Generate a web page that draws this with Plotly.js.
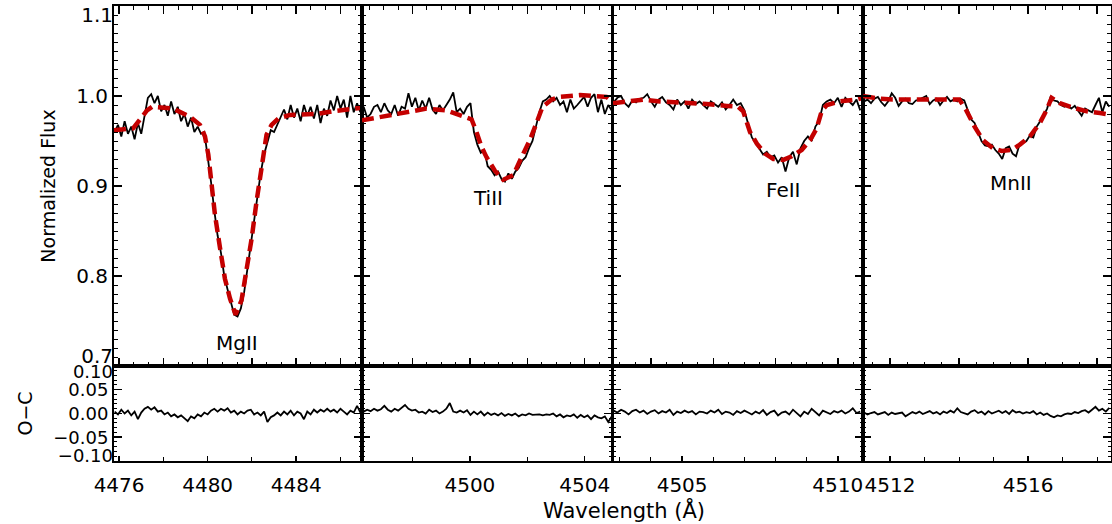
<!DOCTYPE html>
<html><head><meta charset="utf-8">
<script src="https://cdn.plot.ly/plotly-3.0.1.min.js"></script>
<style>html,body{margin:0;padding:0;background:#fff;}</style>
</head><body><div id="chart" style="width:1112px;height:524px;"></div>
<script>
// ---------- Mg II 4481 panel ----------
const mgWave = [4475.80,4475.95,4476.10,4476.25,4476.40,4476.55,4476.70,4476.85,4477.00,4477.15,
4477.30,4477.45,4477.60,4477.75,4477.90,4478.05,4478.20,4478.35,4478.50,4478.65,
4478.80,4478.95,4479.10,4479.25,4479.40,4479.55,4479.70,4479.85,4480.00,4480.15,
4480.30,4480.45,4480.60,4480.75,4480.90,4481.05,4481.20,4481.35,4481.50,4481.65,
4481.80,4481.95,4482.10,4482.25,4482.40,4482.55,4482.70,4482.85,4483.00,4483.15,
4483.30,4483.45,4483.60,4483.75,4483.90,4484.05,4484.20,4484.35,4484.50,4484.65,
4484.80,4484.95,4485.10,4485.25,4485.40,4485.55,4485.70,4485.85,4486.00,4486.15,
4486.30,4486.45,4486.60,4486.75,4486.90];
const mgFlux = [0.960,0.968,0.955,0.972,0.958,0.966,0.952,0.970,0.958,0.980,
0.998,1.002,0.992,1.000,0.983,0.990,0.978,0.994,0.980,0.988,
0.972,0.980,0.966,0.976,0.960,0.966,0.958,0.960,0.935,0.905,
0.873,0.845,0.826,0.800,0.785,0.770,0.757,0.755,0.764,0.782,
0.808,0.832,0.860,0.888,0.915,0.935,0.950,0.962,0.960,0.968,
0.976,0.985,0.974,0.990,0.976,0.986,0.972,0.990,0.978,0.988,
0.975,0.990,0.970,0.986,0.978,0.995,0.984,1.000,0.986,0.996,
0.976,1.000,0.982,0.992,0.982];
const mgResid = [0.004,-0.002,0.008,0.000,0.006,-0.004,0.004,-0.012,0.002,0.010,
0.014,0.008,0.013,0.004,0.006,-0.002,0.002,-0.006,-0.002,-0.008,
-0.004,-0.010,-0.016,-0.006,-0.010,-0.002,-0.006,0.002,-0.002,0.006,
0.010,0.004,0.010,0.006,0.011,0.002,0.006,-0.002,0.004,0.000,
0.006,0.008,-0.002,0.002,-0.004,0.004,-0.018,-0.008,-0.004,0.002,
-0.004,0.004,-0.002,0.006,-0.004,0.004,0.000,-0.012,0.004,-0.002,
0.008,0.002,0.008,0.004,0.010,0.004,0.008,0.002,0.010,0.004,
-0.002,0.006,0.002,0.016,0.002];
const mgModelWave = [4475.77,4476.63,4477.26,4477.49,4478.43,4479.20,4479.65,4479.88,4480.03,4480.18,
4480.33,4480.56,4480.78,4481.01,4481.26,4481.53,4481.76,4481.99,4482.21,4482.44,
4482.66,4482.89,4483.19,4483.72,4484.93,4485.66,4486.97];
const mgModelFlux = [0.962,0.964,0.984,0.988,0.986,0.977,0.968,0.955,0.935,0.901,
0.868,0.831,0.797,0.775,0.757,0.773,0.805,0.842,0.883,0.924,
0.957,0.968,0.975,0.979,0.980,0.983,0.987];

// ---------- Ti II 4501 panel ----------
const tiWave = [4496.30,4496.42,4496.54,4496.66,4496.78,4496.90,4497.02,4497.14,4497.26,4497.38,
4497.50,4497.62,4497.74,4497.86,4497.98,4498.10,4498.22,4498.34,4498.46,4498.58,
4498.70,4498.82,4498.94,4499.06,4499.18,4499.30,4499.42,4499.54,4499.66,4499.78,
4499.90,4500.02,4500.14,4500.26,4500.38,4500.50,4500.62,4500.74,4500.86,4500.98,
4501.10,4501.22,4501.34,4501.46,4501.58,4501.70,4501.82,4501.94,4502.06,4502.18,
4502.30,4502.42,4502.54,4502.66,4502.78,4502.90,4503.02,4503.14,4503.26,4503.38,
4503.50,4503.62,4503.74,4503.86,4503.98,4504.10,4504.22,4504.34,4504.46,4504.58,
4504.70,4504.82,4504.94];
const tiFlux = [0.988,0.976,0.980,0.988,0.990,0.982,0.992,0.984,0.980,0.990,
0.978,0.988,0.986,1.003,0.988,0.998,0.984,0.995,0.986,0.998,
0.985,0.980,0.990,0.984,0.990,0.996,1.004,0.982,0.986,0.980,
0.988,0.992,0.960,0.946,0.937,0.940,0.922,0.918,0.912,0.916,
0.908,0.905,0.914,0.908,0.916,0.920,0.928,0.932,0.942,0.950,
0.966,0.982,0.994,0.996,1.000,0.994,0.998,0.990,0.994,0.982,
0.996,0.986,0.990,0.994,0.999,0.988,0.998,1.002,0.982,0.996,
0.980,0.990,0.984];
const tiResid = [0.004,0.008,0.005,0.010,0.006,0.009,0.016,0.008,0.004,0.010,
0.006,0.012,0.018,0.010,0.006,0.008,0.002,0.004,0.000,0.008,
0.003,0.006,0.000,0.004,0.010,0.022,0.004,0.002,0.006,0.002,
0.007,-0.003,0.004,-0.002,0.004,-0.004,0.002,-0.003,0.000,-0.004,
0.001,-0.005,-0.001,-0.004,0.000,-0.006,-0.002,-0.004,0.000,-0.003,
-0.002,-0.002,-0.004,-0.002,-0.003,0.000,-0.006,-0.002,-0.008,-0.004,
-0.006,-0.002,-0.009,-0.003,-0.008,-0.004,-0.012,-0.004,-0.008,-0.010,
-0.006,-0.018,-0.006];
const tiModelWave = [4496.24,4497.33,4498.49,4499.19,4499.65,4500.06,4500.23,4500.41,4500.58,4500.87,
4501.16,4501.51,4501.86,4502.09,4502.32,4502.53,4502.85,4503.14,4503.83,4504.76,4504.95];
const tiModelFlux = [0.973,0.979,0.986,0.984,0.979,0.974,0.960,0.943,0.932,0.917,
0.907,0.912,0.936,0.951,0.970,0.988,0.996,0.999,1.001,0.999,0.994];

// ---------- Fe II 4508 panel ----------
const feWave = [4502.80,4502.92,4503.04,4503.16,4503.28,4503.40,4503.52,4503.64,4503.76,4503.88,
4504.00,4504.12,4504.24,4504.36,4504.48,4504.60,4504.72,4504.84,4504.96,4505.08,
4505.20,4505.32,4505.44,4505.56,4505.68,4505.80,4505.92,4506.04,4506.16,4506.28,
4506.40,4506.52,4506.64,4506.76,4506.88,4507.00,4507.12,4507.24,4507.36,4507.48,
4507.60,4507.72,4507.84,4507.96,4508.08,4508.20,4508.32,4508.44,4508.56,4508.68,
4508.80,4508.92,4509.04,4509.16,4509.28,4509.40,4509.52,4509.64,4509.76,4509.88,
4510.00,4510.12,4510.24,4510.36,4510.48,4510.60,4510.72];
const feFlux = [0.993,0.998,1.000,0.992,0.988,0.995,0.993,0.997,0.998,1.002,
0.994,0.988,0.996,0.999,0.993,0.990,0.985,0.996,0.990,0.994,
0.986,0.996,0.991,0.994,0.990,0.986,0.994,0.991,0.988,0.993,
0.985,0.990,0.996,0.990,0.992,0.984,0.968,0.954,0.948,0.942,
0.935,0.938,0.932,0.934,0.926,0.932,0.916,0.932,0.938,0.924,
0.942,0.950,0.955,0.950,0.966,0.972,0.990,0.994,0.996,0.992,
0.998,0.988,0.998,0.994,0.990,0.996,0.984];
const feResid = [0.006,0.002,0.008,0.004,-0.002,0.005,0.008,0.002,0.006,-0.001,
0.004,0.007,0.000,0.005,0.002,0.008,-0.003,0.004,0.001,0.006,
0.002,0.005,-0.002,0.004,0.003,0.000,0.006,0.002,0.008,-0.001,
0.004,0.002,-0.003,0.005,0.001,0.006,0.002,-0.002,0.004,0.000,
0.007,-0.003,0.003,0.006,-0.004,0.002,0.004,-0.002,0.008,0.000,
-0.006,0.004,-0.001,0.010,0.002,-0.004,0.006,0.003,-0.001,0.005,
0.002,0.006,0.000,0.004,0.011,0.001,0.004];
const feModelWave = [4502.78,4503.75,4504.29,4505.14,4505.79,4506.43,4506.80,4506.96,4507.18,4507.40,
4507.66,4507.93,4508.25,4508.52,4508.84,4509.11,4509.32,4509.49,4509.65,4510.07,4510.61,4510.81];
const feModelFlux = [0.992,0.996,0.994,0.993,0.991,0.989,0.988,0.983,0.960,0.947,
0.936,0.930,0.929,0.933,0.940,0.951,0.964,0.984,0.990,0.994,0.996,0.998];

// ---------- Mn II 4515 panel ----------
const mnWave = [4511.25,4511.35,4511.45,4511.55,4511.65,4511.75,4511.85,4511.95,4512.05,4512.15,
4512.25,4512.35,4512.45,4512.55,4512.65,4512.75,4512.85,4512.95,4513.05,4513.15,
4513.25,4513.35,4513.45,4513.55,4513.65,4513.75,4513.85,4513.95,4514.05,4514.15,
4514.25,4514.35,4514.45,4514.55,4514.65,4514.75,4514.85,4514.95,4515.05,4515.15,
4515.25,4515.35,4515.45,4515.55,4515.65,4515.75,4515.85,4515.95,4516.05,4516.15,
4516.25,4516.35,4516.45,4516.55,4516.65,4516.75,4516.85,4516.95,4517.05,4517.15,
4517.25,4517.35,4517.45,4517.55,4517.65,4517.75,4517.85,4517.95,4518.05,4518.15,
4518.25,4518.35];
const mnFlux = [0.994,0.996,0.992,0.997,0.999,0.993,0.989,0.994,1.003,0.998,
0.989,0.994,0.997,0.992,0.991,0.995,0.996,0.998,1.000,0.991,
0.995,0.997,0.990,0.995,0.999,0.994,0.996,0.994,0.997,0.995,
0.984,0.974,0.970,0.960,0.950,0.945,0.944,0.946,0.940,0.936,
0.930,0.942,0.944,0.936,0.933,0.946,0.948,0.950,0.956,0.954,
0.966,0.972,0.978,0.986,0.999,0.995,0.994,0.990,0.988,0.990,
0.986,0.989,0.984,0.978,0.986,0.984,0.982,0.990,0.998,0.982,
0.994,0.988];
const mnResid = [0.002,-0.002,0.001,0.003,-0.002,0.000,0.003,-0.003,0.002,-0.001,
0.001,0.002,-0.006,-0.002,0.003,0.000,0.004,-0.001,0.002,0.005,
0.000,0.003,-0.002,0.004,0.001,0.006,0.002,0.011,0.003,0.000,
-0.002,0.004,0.007,0.001,0.004,-0.002,0.005,0.000,0.003,0.006,
0.001,0.005,-0.001,0.007,0.002,0.004,0.000,0.003,0.001,0.005,
-0.002,0.002,-0.003,0.000,-0.005,-0.008,-0.004,-0.006,-0.002,0.000,
-0.001,0.003,0.001,0.005,0.007,0.002,0.008,0.014,0.006,0.010,
0.004,0.012];
const mnModelWave = [4511.22,4511.69,4512.08,4512.56,4513.05,4513.53,4514.01,4514.21,4514.45,4514.69,
4514.98,4515.23,4515.52,4515.76,4516.05,4516.34,4516.53,4516.68,4516.92,4517.31,4517.70,4518.08,4518.40];
const mnModelFlux = [1.000,0.997,0.996,0.996,0.997,0.996,0.996,0.984,0.966,0.951,
0.942,0.939,0.940,0.946,0.955,0.970,0.984,0.998,0.992,0.987,0.983,0.981,0.979];

// ---------- labels ----------
const lineNames = ['MgII','TiII','FeII','MnII'];
const lineLabelWave = [4481.31,4500.63,4508.24,4515.50];
const lineLabelFlux = [0.7256,0.8867,0.8956,0.9033];
const bottomTickVals = [[4476,4480,4484],[4500,4504],[4505,4510],[4512,4516]];
const fluxTickVals = [0.7,0.8,0.9,1.0,1.1];
const fluxTickText = ['','0.8','0.9','1.0',''];
const fluxEdgeTicks = [1.1,0.7];          // edge labels drawn nudged inward, as in the original
const residTickVals = [-0.10,-0.05,0.00,0.05,0.10];
const residTickText = ['','\u22120.05','0.00','0.05',''];
const residEdgeTicks = [0.10,-0.10];
const xTitle = 'Wavelength (Å)';
const yTitleTop = 'Normalized Flux';
const yTitleBottom = 'O\u2212C';

// ---------- build ----------
const FONT = 'DejaVu Sans, sans-serif';
const RED = '#c40000';
const TICKSIZE = 20;
const RESIDSIZE = 18;
const panels = [
  {w: mgWave, f: mgFlux, r: mgResid, mw: mgModelWave, mf: mgModelFlux},
  {w: tiWave, f: tiFlux, r: tiResid, mw: tiModelWave, mf: tiModelFlux},
  {w: feWave, f: feFlux, r: feResid, mw: feModelWave, mf: feModelFlux},
  {w: mnWave, f: mnFlux, r: mnResid, mw: mnModelWave, mf: mnModelFlux}
];
const xRanges = [[4475.77,4486.97],[4496.24,4504.95],[4502.78,4510.81],[4511.22,4518.40]];
const xDomains = [[0,0.2487],[0.2487,0.4995],[0.5005,0.7513],[0.7513,1]];
const topMinor = [2/3,0.5,0.5,0.5];
const bottomMinor = [2,2,1,1];
const topDom = [0.2088,1], botDom = [0,0.2088];

const traces = [];
const layout = {
  width:1112, height:524,
  margin:{l:114, r:1, t:6, b:63},
  paper_bgcolor:'#fff', plot_bgcolor:'#fff',
  showlegend:false,
  font:{family:FONT, size:TICKSIZE, color:'#000'},
  annotations:[]
};
function sfx(n){ return n===1 ? '' : String(n); }
const baseAxis = {
  showline:true, linecolor:'#000', linewidth:2, mirror:'ticks',
  ticks:'inside', tickcolor:'#000', tickwidth:1.5,
  showgrid:false, zeroline:false,
  tickfont:{family:FONT, size:TICKSIZE, color:'#000'}
};
panels.forEach((p,i)=>{
  const tx = i+1, bx = i+5;
  traces.push({x:p.w, y:p.f, type:'scatter', mode:'lines',
    line:{color:'#000', width:1.8}, xaxis:'x'+sfx(tx), yaxis:'y'+sfx(tx), hoverinfo:'skip'});
  traces.push({x:p.mw, y:p.mf, type:'scatter', mode:'lines',
    line:{color:RED, width:4.5, dash:'12px,6px'}, xaxis:'x'+sfx(tx), yaxis:'y'+sfx(tx), hoverinfo:'skip'});
  traces.push({x:p.w, y:p.r, type:'scatter', mode:'lines',
    line:{color:'#000', width:1.8}, xaxis:'x'+bx, yaxis:'y'+bx, hoverinfo:'skip'});

  layout['xaxis'+sfx(tx)] = Object.assign({}, baseAxis, {
    domain:xDomains[i], range:xRanges[i], anchor:'y'+sfx(tx),
    dtick:2, tick0:4476, ticklen:8, showticklabels:false,
    minor:{ticks:'inside', ticklen:4, tickwidth:1, tickcolor:'#000', dtick:topMinor[i], tick0:4476, showgrid:false}
  });
  layout['yaxis'+sfx(tx)] = Object.assign({}, baseAxis, {
    domain:topDom, range:[0.7,1.1], anchor:'x'+sfx(tx),
    tickvals:fluxTickVals, ticktext:fluxTickText, ticklen:8, showticklabels:(i===0),
    minor:{ticks:'inside', ticklen:4, tickwidth:1, tickcolor:'#000', dtick:0.01, tick0:0.7, showgrid:false},
    title: i===0 ? {text:yTitleTop, font:{family:FONT, size:19, color:'#000'}, standoff:16} : undefined
  });
  layout['xaxis'+bx] = Object.assign({}, baseAxis, {
    domain:xDomains[i], range:xRanges[i], anchor:'y'+bx, mirror:true,
    tickvals:bottomTickVals[i], ticklen:5, ticklabelstandoff:5,
    minor:{ticks:'inside', ticklen:4, tickwidth:1, tickcolor:'#000', dtick:bottomMinor[i], tick0:4476, showgrid:false}
  });
  layout['yaxis'+bx] = Object.assign({}, baseAxis, {
    domain:botDom, range:[-0.1,0.1], anchor:'x'+bx,
    tickvals:residTickVals, ticktext:residTickText, ticklen:8, showticklabels:(i===0),
    tickfont:{family:FONT, size:RESIDSIZE, color:'#000'},
    minor:{ticks:'inside', ticklen:3, tickwidth:1, tickcolor:'#000', dtick:0.01, tick0:-0.1, showgrid:false},
    title: i===0 ? {text:yTitleBottom, font:{family:FONT, size:19, color:'#000'}, standoff:16} : undefined
  });
  layout.annotations.push({x:lineLabelWave[i], y:lineLabelFlux[i], xref:'x'+sfx(tx), yref:'y',
    text:lineNames[i], showarrow:false, font:{family:FONT, size:20, color:'#000'},
    xanchor:'center', yanchor:'middle'});
});

// edge tick labels (1.1 / 0.7 and 0.10 / -0.10) nudged inside the frame, like the IDL original
const edgeAxes = [
  {id:9,  over:'y',  range:[0.7,1.1],  val:fluxEdgeTicks[0],  fmt:'.1f',  shift:9,  size:TICKSIZE},
  {id:10, over:'y',  range:[0.7,1.1],  val:fluxEdgeTicks[1],  fmt:'.1f',  shift:-10, size:TICKSIZE},
  {id:11, over:'y5', range:[-0.1,0.1], val:residEdgeTicks[0], fmt:'.2f',  shift:6,  size:RESIDSIZE},
  {id:12, over:'y5', range:[-0.1,0.1], val:residEdgeTicks[1], fmt:'.2f',  shift:-5, size:RESIDSIZE}
];
edgeAxes.forEach(a=>{
  const xa = a.over==='y' ? 'x' : 'x5';
  layout['yaxis'+a.id] = {
    overlaying:a.over, anchor:xa, side:'left', range:a.range,
    tickvals:[a.val], tickformat:a.fmt, ticks:'', showline:false, showgrid:false, zeroline:false,
    ticklabelshift:a.shift, tickfont:{family:FONT, size:a.size, color:'#000'}
  };
  traces.push({x:[], y:[], type:'scatter', mode:'lines', xaxis:xa, yaxis:'y'+a.id, hoverinfo:'skip'});
});

layout.annotations.push({x:0.5115, y:-0.1085, xref:'paper', yref:'paper', text:xTitle, showarrow:false,
  font:{family:FONT, size:21, color:'#000'}, xanchor:'center', yanchor:'middle'});

Plotly.newPlot('chart', traces, layout, {displayModeBar:false, staticPlot:true});
</script>
</body></html>
